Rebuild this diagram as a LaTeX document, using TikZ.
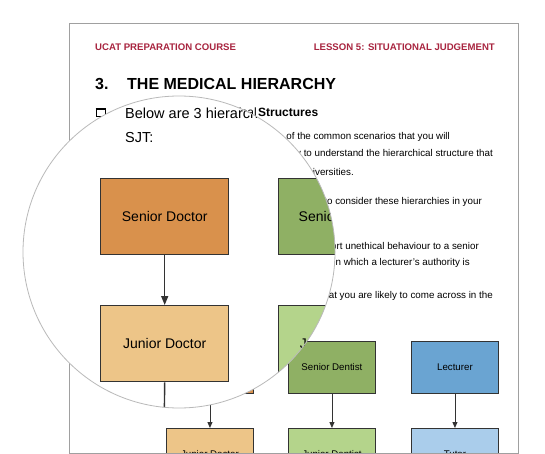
\documentclass[tikz,border=0pt]{standalone}
\usepackage{fontspec}
\setmainfont{Liberation Sans}
\usetikzlibrary{arrows.meta}
\definecolor{hdr}{HTML}{A8243F}
\definecolor{sdoc}{HTML}{D9914C}
\definecolor{jdoc}{HTML}{EDC588}
\definecolor{sden}{HTML}{8FB064}
\definecolor{jden}{HTML}{B4D48B}
\definecolor{lect}{HTML}{6AA4D2}
\definecolor{tut}{HTML}{AACDEB}
\definecolor{boxline}{HTML}{333333}
\definecolor{pageline}{HTML}{A0A0A0}
\tikzset{
  smallbox/.style={draw=boxline, line width=0.9pt, minimum width=87pt, minimum height=52pt,
    inner sep=0pt, anchor=north west, font=\fontsize{9.7}{11}\selectfont},
  bigbox/.style={draw=boxline, line width=1.4pt, minimum width=128pt, minimum height=76pt,
    inner sep=0pt, anchor=north west, font=\fontsize{14}{16}\selectfont},
  sarrow/.style={draw=boxline, line width=0.9pt, -{Triangle[length=6pt,width=5pt]}},
  barrow/.style={draw=boxline, line width=1.4pt, -{Triangle[length=9pt,width=7pt]}},
  para/.style={inner sep=0pt, anchor=east, font=\fontsize{9.8}{11}\selectfont},
  hdrtext/.style={inner sep=0pt, text=hdr, font=\fontsize{9.6}{11}\selectfont\bfseries},
  titletext/.style={inner sep=0pt, anchor=west, font=\fontsize{16}{18}\selectfont\bfseries},
  magtext/.style={inner sep=0pt, anchor=west, font=\fontsize{14.5}{17}\selectfont},
}
\begin{document}
\begin{tikzpicture}[x=1pt,y=-1pt]
\useasboundingbox (0,0) rectangle (545,454);
\fill[white] (0,0) rectangle (545,454);
% page
\fill[white] (69,23) rectangle (518,453);
\begin{scope}
\clip (69,23) rectangle (518,453);
\node[hdrtext, anchor=west] (h1) at (95,47) {UCAT PREPARATION COURSE};
\node[hdrtext, anchor=east] (h2) at (495,47) {LESSON 5: SITUATIONAL JUDGEMENT};
\node[titletext] (t1) at (95,84) {3.};
\node[titletext] (t2) at (127,84) {THE MEDICAL HIERARCHY};
\draw[line width=1pt] (96,109) rectangle (105,117);
\draw[line width=1.8pt] (95.5,109) -- (105.5,109);
\node[inner sep=0pt, anchor=east, font=\fontsize{12}{14}\selectfont] (b1) at (257,112) {Below are 3 hierarchical};
\node[inner sep=0pt, anchor=west, font=\fontsize{12}{14}\selectfont\bfseries] (b2) at (258,112) {Structures};
\node[para] (p1) at (450,137) {of the common scenarios that you will};
\node[para] (p2) at (493,154) {way to understand the hierarchical structure that};
\node[para] (p3) at (354,172) {universities.};
\node[para] (p4) at (482,202) {to consider these hierarchies in your};
\node[para] (p5) at (479,247) {report unethical behaviour to a senior};
\node[para] (p6) at (470,263) {in which a lecturer’s authority is};
\node[para] (p7) at (493,296) {that you are likely to come across in the};
% small diagram
\node[smallbox, fill=sdoc] (ssd) at (166,341) {Senior Doctor};
\node[smallbox, fill=jdoc] (sjd) at (166,428) {Junior Doctor};
\node[smallbox, fill=sden] (ssn) at (288,341) {Senior Dentist};
\node[smallbox, fill=jden] (sjn) at (288,428) {Junior Dentist};
\node[smallbox, fill=lect] (slc) at (411,341) {Lecturer};
\node[smallbox, fill=tut] (stu) at (411,428) {Tutor};
\draw[sarrow] (ssd.south) -- (sjd.north);
\draw[sarrow] (ssn.south) -- (sjn.north);
\draw[sarrow] (slc.south) -- (stu.north);
\end{scope}
\draw[pageline, line width=0.8pt] (69,23) rectangle (518,453);
% magnifier
\fill[white] (179,252) circle (156pt);
\begin{scope}
\clip (179,252) circle (156pt);
\node[magtext] (m1) at (125,113) {Below are 3 hierarchical};
\node[magtext] (m2) at (125,138) {SJT:};
\node[bigbox, fill=sdoc] (bsd) at (100,178) {Senior Doctor};
\node[bigbox, fill=jdoc] (bjd) at (100,305) {Junior Doctor};
\node[bigbox, fill=sden] (bsn) at (278,178) {Senior Dentist};
\node[bigbox, fill=jden] (bjn) at (278,305) {Junior Dentist};
\draw[barrow] (bsd.south) -- (bjd.north);
\draw[barrow] (bsn.south) -- (bjn.north);
\coordinate (bdown) at (164,440);
\draw[draw=boxline, line width=1.4pt] (bjd.south) -- (bdown);
\end{scope}
\draw[gray!55, line width=0.8pt] (179,252) circle (156pt);
\end{tikzpicture}
\end{document}
